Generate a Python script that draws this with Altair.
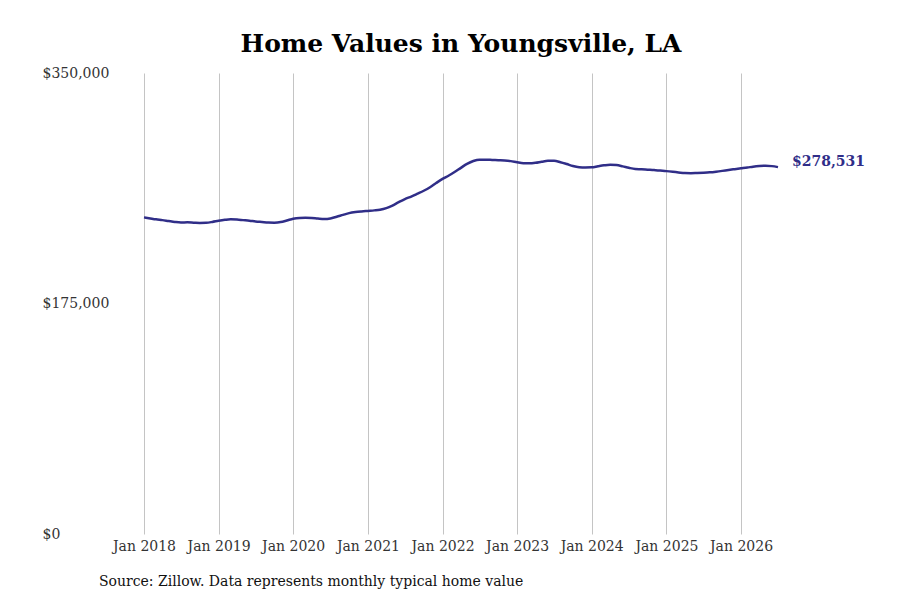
import altair as alt
import pandas as pd

# Monthly typical home value (thousands of dollars), Jan 2018 .. Jul 2026
start_month = "2018-01-01"
values_k = [
    240.4, 239.6, 238.9, 238.3, 237.6, 236.9, 236.5, 236.6, 236.4, 236.2, 236.3, 236.9,
    237.8, 238.5, 238.9, 238.7, 238.3, 237.9, 237.3, 236.9, 236.5, 236.4, 236.8, 238.0,
    239.4, 240.0, 240.1, 239.9, 239.5, 239.2, 239.6, 240.9, 242.3, 243.6, 244.4, 244.9,
    245.3, 245.7, 246.2, 247.4, 249.4, 252.0, 254.3, 256.2, 258.4, 260.6, 263.3, 266.5,
    269.6, 272.2, 274.8, 278.0, 281.0, 283.2, 284.2, 284.2, 284.0, 283.8, 283.6, 283.1,
    282.2, 281.5, 281.4, 281.8, 282.6, 283.3, 283.3, 282.3, 280.9, 279.4, 278.5, 278.3,
    278.4, 279.2, 279.9, 280.4, 280.1, 279.1, 278.0, 277.1, 276.9, 276.6, 276.3, 275.9,
    275.5, 275.0, 274.5, 274.0, 273.9, 274.1, 274.3, 274.6, 275.1, 275.7, 276.4, 277.0,
    277.6, 278.2, 278.9, 279.4, 279.6, 279.3, 278.531,
]
y_ticks = [0, 175000, 350000]
title_text = "Home Values in Youngsville, LA"
source_text = "Source: Zillow. Data represents monthly typical home value"

dates = pd.date_range(start_month, periods=len(values_k), freq="MS")
df = pd.DataFrame({"date": dates, "value": [v * 1000 for v in values_k]})
last = df.tail(1).copy()
last["label"] = "$278,531"

LINE = "#302e88"
FONT = "DejaVu Serif"

x_enc = alt.X(
    "date:T",
    scale=alt.Scale(domain=["2018-01-01", "2026-07-01"]),
    axis=alt.Axis(
        title=None, format="%b %Y", tickCount={"interval": "year", "step": 1},
        grid=True, gridColor="#c4c4c4", gridWidth=1, ticks=False, domain=False,
        labelFont=FONT, labelFontSize=14, labelColor="#333333", labelPadding=5,
        labelAlign="center", labelOverlap=False, labelFlush=False,
    ),
)
y_enc = alt.Y(
    "value:Q",
    scale=alt.Scale(domain=[0, 350000]),
    axis=alt.Axis(
        title=None, values=y_ticks, format="$,.0f", grid=False, ticks=False,
        domain=False, labelAlign="left", labelPadding=102, labelFont=FONT,
        labelFontSize=14, labelColor="#333333",
    ),
)

line = alt.Chart(df).mark_line(color=LINE, strokeWidth=2.5, interpolate="monotone").encode(
    x=x_enc, y=y_enc
)

end_label = alt.Chart(last).mark_text(
    align="left", baseline="middle", dx=14, dy=-5, font=FONT, fontSize=14,
    fontWeight="bold", color=LINE,
).encode(x="date:T", y="value:Q", text="label:N")

source = alt.Chart(pd.DataFrame({"t": [source_text]})).mark_text(
    align="left", baseline="middle", font=FONT, fontSize=14, color="#111111",
).encode(x=alt.value(-45), y=alt.value(509), text="t:N")

chart = alt.layer(line, end_label, source).properties(
    width=634,
    height=461,
    autosize="none",
    padding={"left": 136, "top": 65, "right": 110, "bottom": 58},
    title=alt.TitleParams(
        title_text, font=FONT, fontSize=25, fontWeight="bold", color="#000000",
        anchor="middle", offset=9,
    ),
).configure_view(stroke=None)

chart.save("out.html", embed_options={"renderer": "svg", "actions": False})
